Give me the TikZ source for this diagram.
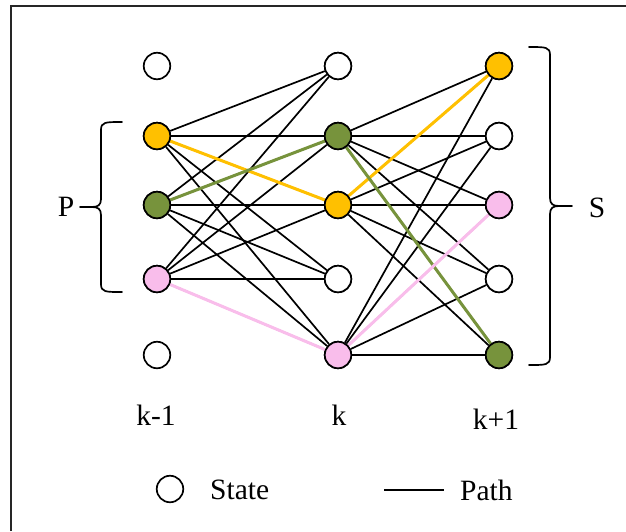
\documentclass[tikz,border=0pt]{standalone}
\usepackage{fontspec}
\setmainfont{Liberation Serif}
\definecolor{stateyellow}{HTML}{FFC000}
\definecolor{stategreen}{HTML}{77933C}
\definecolor{statepink}{HTML}{F9BDEB}
\begin{document}
\begin{tikzpicture}[x=1pt,y=-1pt,
  state/.style={circle,draw=black,line width=1.7pt,minimum size=26.5pt,inner sep=0pt,fill=white},
  link/.style={line width=1.7pt,black},
  hl/.style={line width=3pt},
  lbl/.style={font=\fontsize{29.5}{32}\selectfont,inner sep=0pt},
  brace/.style={line width=1.7pt,line join=round,line cap=round}]
\useasboundingbox (0,0) rectangle (626,531);

% frame
\draw[line width=2pt,black!85] (11,531) -- (11,6) -- (626,6);

% trellis states
\foreach \i/\y in {0/66,1/136,2/205,3/279,4/355}{
  \node[state] (l\i) at (157,\y) {};
  \node[state] (m\i) at (338,\y) {};
  \node[state] (r\i) at (499,\y) {};
}

% all candidate paths
\foreach \a in {1,2,3}{\foreach \b in {0,...,4}{\draw[link] (l\a) -- (m\b);}}
\foreach \a in {1,2,4}{\foreach \b in {0,...,4}{\draw[link] (m\a) -- (r\b);}}

% surviving paths
\draw[hl,stateyellow] (l1) -- (m2);
\draw[hl,stategreen] (l2) -- (m1);
\draw[hl,statepink] (l3) -- (m4);
\draw[hl,stateyellow] (m2) -- (r0);
\draw[hl,stategreen] (m1) -- (r4);
\draw[hl,statepink] (m4) -- (r2);

% coloured states redrawn on top
\node[state,fill=stateyellow] at (l1) {};
\node[state,fill=stategreen] at (l2) {};
\node[state,fill=statepink] at (l3) {};
\node[state,fill=stategreen] at (m1) {};
\node[state,fill=stateyellow] at (m2) {};
\node[state,fill=statepink] at (m4) {};
\node[state,fill=stateyellow] at (r0) {};
\node[state,fill=statepink] at (r2) {};
\node[state,fill=stategreen] at (r4) {};
\node[state] at (m0) {};
\node[state] at (m3) {};
\node[state] at (r1) {};
\node[state] at (r3) {};

% brace P
\draw[brace] (122,122) .. controls (105,122) and (101,122) .. (101,130) -- (101,199)
  .. controls (101,205) and (98,207) .. (92,207) -- (80,207);
\draw[brace] (122,292) .. controls (105,292) and (101,292) .. (101,284) -- (101,215)
  .. controls (101,209) and (98,207) .. (92,207);
\node[lbl] (plabel) at (66,207) {P};

% brace S
\draw[brace] (529,47) .. controls (546,47) and (550,47) .. (550,55) -- (550,198)
  .. controls (550,204) and (553,206) .. (559,206) -- (572,206);
\draw[brace] (529,365) .. controls (546,365) and (550,365) .. (550,357) -- (550,214)
  .. controls (550,208) and (553,206) .. (559,206);
\node[lbl] (slabel) at (597,208) {S};

% time steps
\node[lbl] (tkm) at (156,415) {k-1};
\node[lbl] (tk) at (339,415) {k};
\node[lbl] (tkp) at (496,419) {k+1};

% legend
\node[state] (legstate) at (170,489) {};
\node[lbl,anchor=west] (legstatetext) at (210,490) {State};
\coordinate (lega) at (384,490);
\coordinate (legb) at (444,490);
\draw[link] (lega) -- (legb);
\node[lbl,anchor=west] (legpathtext) at (460,490) {Path};
\end{tikzpicture}
\end{document}
